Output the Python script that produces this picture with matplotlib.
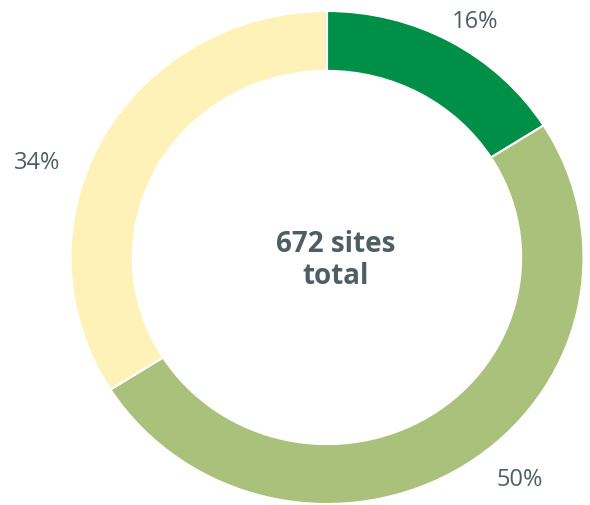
import matplotlib
matplotlib.use("Agg")
import matplotlib.pyplot as plt

# Data
categories = ["Group A", "Group B", "Group C"]
values = [16, 50, 34]
pct_labels = ["16%", "50%", "34%"]
center_label = "672 sites\ntotal"

# Styles
colors = ["#008F46", "#A9C17A", "#FFF2B9"]
text_color = "#4E5E65"
# label positions (data units, layout only)
label_pos = [(0.577, 0.955), (0.752, -0.903), (-1.131, 0.383)]
center_pos = (0.035, -0.012)

fig = plt.figure(figsize=(5.9, 5.05), dpi=100)
ax = fig.add_axes([70.5 / 590, 1 / 505, 513 / 590, 493 / 505])
ax.pie(values, colors=colors, startangle=90, counterclock=False, radius=1,
       wedgeprops=dict(width=0.243, edgecolor="white", linewidth=1.5))
ax.set_aspect("auto")
ax.set_xlim(-1, 1)
ax.set_ylim(-1, 1)
ax.axis("off")

for lab, (x, y) in zip(pct_labels, label_pos):
    ax.text(x, y, lab, ha="center", va="center", fontsize=17,
            color=text_color, family="Open Sans", clip_on=False)

ax.text(center_pos[0], center_pos[1], center_label, ha="center", va="center",
        fontsize=20, fontweight="bold", color=text_color, family="Open Sans",
        linespacing=1.15)

fig.savefig("out.png", dpi=100)
